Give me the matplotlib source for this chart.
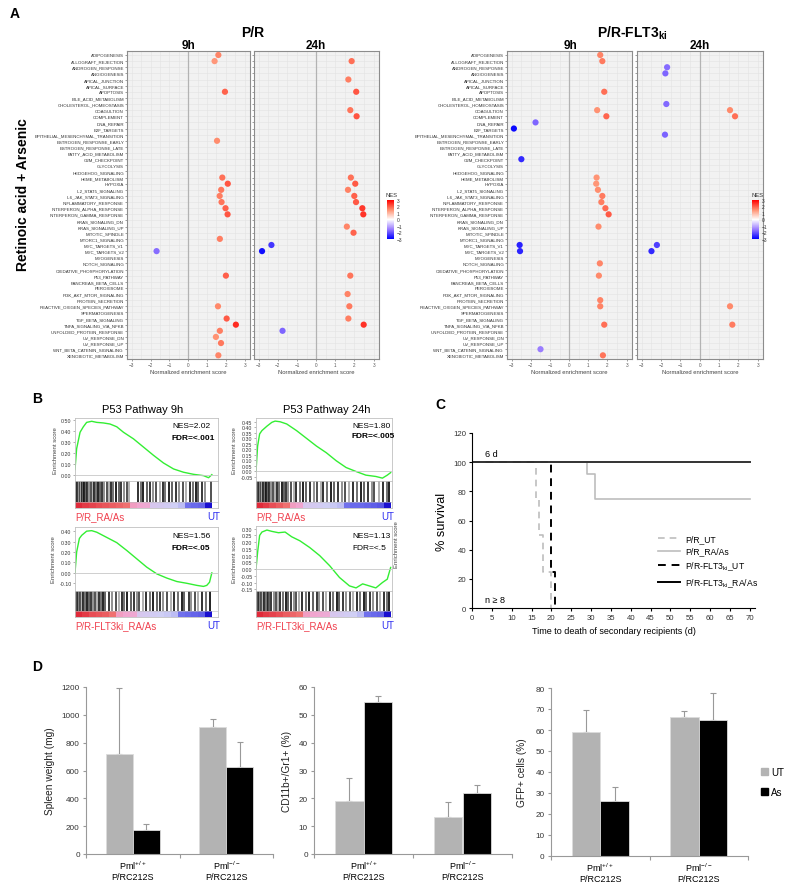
import numpy as np
import matplotlib.pyplot as plt
from matplotlib.colors import LinearSegmentedColormap, Normalize
from matplotlib.cm import ScalarMappable
from matplotlib.lines import Line2D
from matplotlib.patches import Patch

plt.rcParams['font.family'] = ['Liberation Sans', 'DejaVu Sans']
plt.rcParams['mathtext.fontset'] = 'custom'
plt.rcParams['mathtext.rm'] = 'Liberation Sans'
plt.rcParams['mathtext.bf'] = 'Liberation Sans:bold'
plt.rcParams['mathtext.it'] = 'Liberation Sans:italic'

# ---------------- data: panel A (hallmark GSEA, NES) ----------------
pathways = ['ADIPOGENESIS', 'ALLOGRAFT_REJECTION', 'ANDROGEN_RESPONSE', 'ANGIOGENESIS',
            'APICAL_JUNCTION', 'APICAL_SURFACE', 'APOPTOSIS', 'BILE_ACID_METABOLISM',
            'CHOLESTEROL_HOMEOSTASIS', 'COAGULTION', 'COMPLEMENT', 'DNA_REPAIR', 'E2F_TARGETS',
            'EPITHELIAL_MESENCHYMAL_TRANSITION', 'ESTROGEN_RESPONSE_EARLY', 'ESTROGEN_RESPONSE_LATE',
            'FATTY_ACID_METABOLISM', 'G2M_CHECKPOINT', 'GLYCOLYSIS', 'HEDGEHOG_SIGNALING',
            'HEME_METABOLISM', 'HYPOXIA', 'IL2_STAT5_SIGNALING', 'IL6_JAK_STAT3_SIGNALING',
            'INFLAMMATORY_RESPONSE', 'INTERFERON_ALPHA_RESPONSE', 'INTERFERON_GAMMA_RESPONSE',
            'KRAS_SIGNALING_DN', 'KRAS_SIGNALING_UP', 'MITOTIC_SPINDLE', 'MTORC1_SIGNALING',
            'MYC_TARGETS_V1', 'MYC_TARGETS_V2', 'MYOGENESIS', 'NOTCH_SIGNALING',
            'OXIDATIVE_PHOSPHORYLATION', 'P53_PATHWAY', 'PANCREAS_BETA_CELLS', 'PEROXISOME',
            'PI3K_AKT_MTOR_SIGNALING', 'PROTEIN_SECRETION', 'REACTIVE_OXIGEN_SPECIES_PATHWAY',
            'SPERMATOGENESIS', 'TGF_BETA_SIGNALING', 'TNFA_SIGNALING_VIA_NFKB',
            'UNFOLDED_PROTEIN_RESPONSE', 'UV_RESPONSE_DN', 'UV_RESPONSE_UP',
            'WNT_BETA_CATENIN_SIGNALING', 'XENOBIOTIC_METABOLISM']

pr_9h = {'ADIPOGENESIS': 1.60, 'ALLOGRAFT_REJECTION': 1.40, 'APOPTOSIS': 1.95,
         'ESTROGEN_RESPONSE_EARLY': 1.53, 'HEME_METABOLISM': 1.81, 'HYPOXIA': 2.10,
         'IL2_STAT5_SIGNALING': 1.75, 'IL6_JAK_STAT3_SIGNALING': 1.67, 'INFLAMMATORY_RESPONSE': 1.77,
         'INTERFERON_ALPHA_RESPONSE': 1.98, 'INTERFERON_GAMMA_RESPONSE': 2.09,
         'MTORC1_SIGNALING': 1.68, 'MYC_TARGETS_V2': -1.68, 'P53_PATHWAY': 2.00,
         'REACTIVE_OXIGEN_SPECIES_PATHWAY': 1.58, 'TGF_BETA_SIGNALING': 2.04,
         'TNFA_SIGNALING_VIA_NFKB': 2.53, 'UNFOLDED_PROTEIN_RESPONSE': 1.68,
         'UV_RESPONSE_DN': 1.47, 'UV_RESPONSE_UP': 1.74, 'XENOBIOTIC_METABOLISM': 1.60}
pr_24h = {'ALLOGRAFT_REJECTION': 1.85, 'APICAL_JUNCTION': 1.68, 'APOPTOSIS': 2.09,
          'COAGULTION': 1.78, 'COMPLEMENT': 2.11, 'HEME_METABOLISM': 1.81, 'HYPOXIA': 2.04,
          'IL2_STAT5_SIGNALING': 1.66, 'IL6_JAK_STAT3_SIGNALING': 1.99, 'INFLAMMATORY_RESPONSE': 2.08,
          'INTERFERON_ALPHA_RESPONSE': 2.41, 'INTERFERON_GAMMA_RESPONSE': 2.46,
          'KRAS_SIGNALING_UP': 1.60, 'MITOTIC_SPINDLE': 1.95, 'MYC_TARGETS_V1': -2.34,
          'MYC_TARGETS_V2': -2.83, 'P53_PATHWAY': 1.78, 'PI3K_AKT_MTOR_SIGNALING': 1.64,
          'REACTIVE_OXIGEN_SPECIES_PATHWAY': 1.73, 'TGF_BETA_SIGNALING': 1.68,
          'TNFA_SIGNALING_VIA_NFKB': 2.48, 'UNFOLDED_PROTEIN_RESPONSE': -1.76}
flt_9h = {'ADIPOGENESIS': 1.62, 'ALLOGRAFT_REJECTION': 1.73, 'APOPTOSIS': 1.83, 'COAGULTION': 1.46,
          'COMPLEMENT': 1.94, 'DNA_REPAIR': -1.76, 'E2F_TARGETS': -2.89, 'G2M_CHECKPOINT': -2.50,
          'HEME_METABOLISM': 1.43, 'HYPOXIA': 1.41, 'IL2_STAT5_SIGNALING': 1.50,
          'IL6_JAK_STAT3_SIGNALING': 1.73, 'INFLAMMATORY_RESPONSE': 1.68,
          'INTERFERON_ALPHA_RESPONSE': 1.89, 'INTERFERON_GAMMA_RESPONSE': 2.06,
          'KRAS_SIGNALING_UP': 1.53, 'MYC_TARGETS_V1': -2.59, 'MYC_TARGETS_V2': -2.57,
          'NOTCH_SIGNALING': 1.60, 'P53_PATHWAY': 1.55, 'PROTEIN_SECRETION': 1.62,
          'REACTIVE_OXIGEN_SPECIES_PATHWAY': 1.62, 'TNFA_SIGNALING_VIA_NFKB': 1.83,
          'WNT_BETA_CATENIN_SIGNALING': -1.50, 'XENOBIOTIC_METABOLISM': 1.76}
flt_24h = {'ANDROGEN_RESPONSE': -1.69, 'ANGIOGENESIS': -1.78, 'CHOLESTEROL_HOMEOSTASIS': -1.73,
           'COAGULTION': 1.57, 'COMPLEMENT': 1.83, 'EPITHELIAL_MESENCHYMAL_TRANSITION': -1.80,
           'MYC_TARGETS_V1': -2.22, 'MYC_TARGETS_V2': -2.50,
           'REACTIVE_OXIGEN_SPECIES_PATHWAY': 1.57, 'TNFA_SIGNALING_VIA_NFKB': 1.69}

# ---------------- data: panel B (running enrichment scores) ----------------
tl_x = [0, 0.012, 0.037, 0.061, 0.085, 0.122, 0.159, 0.207, 0.256, 0.305, 0.354, 0.427, 0.5,
        0.573, 0.646, 0.72, 0.793, 0.866, 0.939, 0.976, 1.0]
tl_es = [0.05, 0.24, 0.39, 0.44, 0.48, 0.49, 0.48, 0.475, 0.465, 0.44, 0.39, 0.33, 0.255,
         0.18, 0.11, 0.055, 0.025, 0.006, -0.006, -0.025, 0.003]
tr_x = [0, 0.012, 0.027, 0.044, 0.081, 0.118, 0.142, 0.179, 0.228, 0.301, 0.375, 0.449, 0.522,
        0.596, 0.669, 0.743, 0.816, 0.89, 0.939, 0.975, 1.0]
tr_es = [0.0, 0.23, 0.34, 0.37, 0.41, 0.445, 0.456, 0.45, 0.43, 0.37, 0.30, 0.23, 0.17, 0.097,
         0.036, 0.0, -0.033, -0.045, -0.06, -0.033, -0.01]
bl_x = [0, 0.012, 0.032, 0.049, 0.085, 0.122, 0.159, 0.232, 0.305, 0.378, 0.451, 0.524, 0.598,
        0.671, 0.744, 0.817, 0.89, 0.939, 0.963, 0.983, 1.0]
bl_es = [0.0, 0.2, 0.33, 0.36, 0.40, 0.405, 0.39, 0.34, 0.29, 0.215, 0.135, 0.055, -0.01,
         -0.05, -0.083, -0.10, -0.12, -0.13, -0.12, -0.09, 0.0]
br_x = [0, 0.012, 0.027, 0.044, 0.081, 0.118, 0.167, 0.216, 0.265, 0.326, 0.399, 0.473, 0.547,
        0.62, 0.694, 0.743, 0.792, 0.841, 0.89, 0.939, 0.975, 1.0]
br_es = [0.0, 0.125, 0.25, 0.275, 0.29, 0.28, 0.27, 0.275, 0.24, 0.21, 0.16, 0.1, 0.025,
         -0.0625, -0.125, -0.14, -0.11, -0.125, -0.14, -0.1, -0.075, 0.012]

tl_hits = [0.003, 0.01, 0.018, 0.026, 0.035, 0.042, 0.05, 0.058, 0.068, 0.078, 0.09, 0.1, 0.115,
           0.128, 0.14, 0.152, 0.17, 0.185, 0.2, 0.215, 0.232, 0.25, 0.262, 0.28, 0.3, 0.318,
           0.335, 0.36, 0.38, 0.395, 0.46, 0.48, 0.5, 0.525, 0.545, 0.57, 0.59, 0.62, 0.64, 0.66,
           0.69, 0.71, 0.735, 0.76, 0.79, 0.81, 0.84, 0.86, 0.885, 0.9, 0.93, 0.95, 0.995]
tr_hits = [0.004, 0.012, 0.02, 0.028, 0.036, 0.045, 0.055, 0.065, 0.075, 0.088, 0.1, 0.112, 0.125,
           0.14, 0.155, 0.17, 0.19, 0.205, 0.22, 0.24, 0.26, 0.28, 0.3, 0.33, 0.35, 0.37, 0.4,
           0.43, 0.45, 0.48, 0.5, 0.53, 0.56, 0.58, 0.61, 0.64, 0.66, 0.69, 0.72, 0.75, 0.78,
           0.8, 0.83, 0.86, 0.88, 0.91, 0.94, 0.97, 0.99]
bl_hits = [0.004, 0.012, 0.02, 0.03, 0.04, 0.05, 0.06, 0.072, 0.085, 0.1, 0.115, 0.13, 0.145,
           0.16, 0.175, 0.19, 0.205, 0.22, 0.245, 0.27, 0.3, 0.32, 0.34, 0.36, 0.38, 0.41, 0.43,
           0.45, 0.47, 0.5, 0.52, 0.545, 0.57, 0.6, 0.62, 0.645, 0.67, 0.7, 0.72, 0.75, 0.78,
           0.8, 0.83, 0.85, 0.88, 0.9, 0.93, 0.96, 0.99]
br_hits = [0.004, 0.012, 0.02, 0.03, 0.04, 0.05, 0.06, 0.075, 0.09, 0.1, 0.115, 0.13, 0.145, 0.16,
           0.18, 0.2, 0.22, 0.24, 0.26, 0.28, 0.3, 0.32, 0.34, 0.37, 0.39, 0.42, 0.45, 0.47, 0.5,
           0.52, 0.55, 0.57, 0.6, 0.62, 0.645, 0.67, 0.7, 0.72, 0.75, 0.77, 0.8, 0.82, 0.85, 0.87,
           0.9, 0.92, 0.95, 0.97, 0.99]

# ranked-list metric, 20 equal segments left to right
tl_rank = [3.0, 2.8, 2.7, 2.6, 2.5, 2.4, 2.3, 2.2, 1.5, 1.4, 1.3, 0.3, 0.2, 0.1, 0.0, -0.3, -1.5, -1.6, -1.7, -3.0]
tr_rank = [3.0, 2.8, 2.6, 2.4, 2.2, 1.5, 1.4, 0.3, 0.2, 0.1, 0.0, -0.1, -0.3, -1.5, -1.6, -1.6, -1.7, -1.8, -1.9, -3.0]
bl_rank = [3.0, 2.8, 2.6, 2.5, 2.4, 2.2, 1.5, 1.4, 1.3, 0.3, 0.2, 0.1, 0.0, -0.1, -0.3, -1.5, -1.6, -1.7, -1.8, -3.0]
br_rank = [3.0, 2.8, 2.7, 2.6, 2.4, 2.3, 2.2, 1.5, 1.4, 1.3, 1.2, 0.3, 0.2, 0.1, 0.0, -0.3, -1.5, -1.6, -1.7, -3.0]

# ---------------- data: panel C (survival) ----------------
pr_ut_days, pr_ut_surv = [0, 16, 17, 18, 20], [100, 75, 50, 25, 0]
pr_ra_days, pr_ra_surv = [0, 29, 31, 70], [100, 91.7, 75, 75]
flt_ut_days, flt_ut_surv = [0, 20, 21], [100, 25, 0]
flt_ra_days, flt_ra_surv = [0, 70], [100, 100]

# ---------------- data: panel D (bars, mean and SD) ----------------
groups = [r'Pml$^{+/+}$', r'Pml$^{-/-}$']
spleen_ut, spleen_ut_sd = [718, 912], [475, 58]
spleen_as, spleen_as_sd = [172, 622], [41, 183]
cd11b_ut, cd11b_ut_sd = [19.2, 13.2], [8.0, 5.4]
cd11b_as, cd11b_as_sd = [54.6, 21.9], [2.0, 2.9]
gfp_ut, gfp_ut_sd = [59.0, 66.3], [10.3, 2.6]
gfp_as, gfp_as_sd = [26.3, 65.0], [6.4, 12.6]

W, H = 800, 895
fig = plt.figure(figsize=(W / 100, H / 100), dpi=100)


def box(x0, y0, x1, y1):
    # pixel box (top-left origin) -> figure rect
    return [x0 / W, 1 - y1 / H, (x1 - x0) / W, (y1 - y0) / H]


def txt(x, y, s, **kw):
    kw.setdefault('ha', 'center')
    kw.setdefault('va', 'center')
    fig.text(x / W, 1 - y / H, s, **kw)


# ================= A =================
nes_cmap = LinearSegmentedColormap.from_list('nes', ['#0000ff', '#9a7cff', '#ffffff', '#ff9070', '#ff0000'])
rows = np.arange(len(pathways))


def nes_panel(x0, x1, values, labels):
    ax = fig.add_axes(box(x0, 52, x1, 360))
    ax.set_facecolor('#f2f2f2')
    ax.set_xlim(-3.25, 3.28)
    ax.set_ylim(49.6, -0.65)
    ax.set_xticks(range(-3, 4))
    ax.set_xticks(np.arange(-2.5, 3, 1), minor=True)
    ax.set_yticks(rows)
    ax.grid(True, which='both', color='#e2e2e2', lw=0.4)
    ax.set_axisbelow(True)
    ax.axvline(0, color='#b3b3b3', lw=0.9, zorder=1)
    if labels:
        ax.set_yticklabels(pathways, fontsize=3.2, color='#333333')
    else:
        ax.set_yticklabels([])
    ax.tick_params(axis='y', length=1.2, width=0.4, pad=1, color='#555555')
    ax.tick_params(axis='x', labelsize=3.3, length=1.2, width=0.4, pad=1,
                   labelcolor='#555555', color='#555555')
    ax.tick_params(which='minor', length=0)
    ax.set_xlabel('Normalized enrichment score', fontsize=4.2, color='#444444', labelpad=1.5)
    for s in ax.spines.values():
        s.set_color('#8c8c8c')
        s.set_linewidth(0.8)
    names = list(values)
    x = [values[n] for n in names]
    y = [pathways.index(n) for n in names]
    ax.scatter(x, y, c=x, cmap=nes_cmap, vmin=-3, vmax=3, s=20, edgecolors='none', zorder=3)


def nes_bar(x0, x1):
    cax = fig.add_axes(box(x0, 201, x1, 240))
    cb = fig.colorbar(ScalarMappable(Normalize(-3, 3), nes_cmap), cax=cax, ticks=range(-3, 4))
    cb.outline.set_visible(False)
    cax.tick_params(labelsize=3.5, length=0, pad=2, labelcolor='#333333')
    txt(x0 - 1, 198, 'NES', fontsize=4.2, color='#333333', ha='left', va='bottom')


nes_panel(127, 250, pr_9h, True)
nes_panel(254, 379, pr_24h, False)
nes_panel(507, 632, flt_9h, True)
nes_panel(637, 763, flt_24h, False)
nes_bar(387, 394)
nes_bar(752, 759)

txt(253, 33, 'P/R', fontsize=10, fontweight='bold')
txt(632, 33, r'P/R-FLT3$_{\mathbf{ki}}$', fontsize=10, fontweight='bold')
for x, s in [(188, '9h'), (316, '24h'), (570, '9h'), (700, '24h')]:
    txt(x, 46, s, fontsize=8.5, fontweight='bold')
txt(23, 195, 'Retinoic acid + Arsenic', fontsize=10, fontweight='bold', rotation=90)

# ================= B =================
rank_cmap = LinearSegmentedColormap.from_list(
    'rank', [(0, '#1a10d0'), (0.233, '#6a6aec'), (0.5, '#d0d0f6'), (0.733, '#f2a6d0'),
             (0.867, '#f07070'), (1, '#e02a3a')])
bar_grays = ['#111111', '#555555', '#2a2a2a', '#888888', '#444444', '#aaaaaa', '#222222', '#666666']


def gsea(x0, x1, y_top, y_mid, y_bot, xs, es, ylim, yticks, fmt, hits, rank, xmax, left_lab):
    ax = fig.add_axes(box(x0, y_top, x1, y_mid))
    ax.plot(xs, es, color='#33ee33', lw=1)
    ax.axhline(0, color='#c8c8c8', lw=0.6)
    ax.set_xlim(0, xmax)
    ax.set_ylim(*ylim)
    ax.set_xticks([])
    ax.set_yticks(yticks)
    ax.set_yticklabels([fmt % v for v in yticks])
    ax.tick_params(axis='y', labelsize=3.8, length=1.5, width=0.4, pad=1, color='#777777',
                   labelcolor='#333333')
    ax.set_ylabel('Enrichment score', fontsize=4.3, color='#444444', labelpad=2)
    for s in ax.spines.values():
        s.set_color('#c0c0c0')
        s.set_linewidth(0.6)
    hx = fig.add_axes(box(x0, y_mid, x1, y_bot))
    hx.set_xlim(0, xmax)
    hx.set_ylim(0, 1)
    hx.set_xticks([])
    hx.set_yticks([])
    for i, h in enumerate(hits):
        hx.vlines(h, 0.23, 1, color=bar_grays[i % len(bar_grays)], lw=1.3)
    hx.axhline(0.23, color='#bbbbbb', lw=0.4)
    hx.imshow([rank], cmap=rank_cmap, vmin=-3, vmax=3, aspect='auto', extent=(0, 1, 0, 0.22))
    for s in hx.spines.values():
        s.set_color('#c0c0c0')
        s.set_linewidth(0.6)
    lab_y = y_bot + 8
    txt(x0, lab_y, left_lab, fontsize=7, color='#f0404e', ha='left')
    txt(x1 + 2, lab_y, 'UT', fontsize=7, color='#3030f0', ha='right')


gsea(75, 218, 419, 482, 509, tl_x, tl_es, (-0.055, 0.52), [0, 0.1, 0.2, 0.3, 0.4, 0.5], '%.2f',
     tl_hits, tl_rank, 1.045, 'P/R_RA/As')
gsea(256, 392, 419, 482, 509, tr_x, tr_es, (-0.086, 0.484), np.round(np.arange(-0.05, 0.46, 0.05), 2),
     '%.2f', tr_hits, tr_rank, 1.01, 'P/R_RA/As')
gsea(75, 218, 528, 592, 618, bl_x, bl_es, (-0.174, 0.44), [-0.1, 0, 0.1, 0.2, 0.3, 0.4], '%.2f',
     bl_hits, bl_rank, 1.045, 'P/R-FLT3ki_RA/As')
gsea(256, 392, 527, 592, 618, br_x, br_es, (-0.163, 0.32), np.round(np.arange(-0.15, 0.31, 0.05), 2),
     '%.2f', br_hits, br_rank, 1.01, 'P/R-FLT3ki_RA/As')
txt(396, 545, 'Enrichment score', fontsize=4.3, color='#444444', rotation=90)

txt(143, 410, 'P53 Pathway 9h', fontsize=8)
txt(327, 410, 'P53 Pathway 24h', fontsize=8)
for x, y, nes, fdr, bold in [(172, 427, 'NES=2.02', 'FDR=<.001', True),
                             (352, 426, 'NES=1.80', 'FDR=<.005', True),
                             (172, 537, 'NES=1.56', 'FDR=<.05', True),
                             (352, 537, 'NES=1.13', 'FDR=<.5', False)]:
    txt(x, y, nes, fontsize=6, ha='left')
    txt(x, y + 11, fdr, fontsize=6, ha='left', fontweight='bold' if bold else 'normal')

# ================= C =================
ax = fig.add_axes(box(472, 434, 755, 609))
ax.step(pr_ra_days, pr_ra_surv, where='post', color='#bdbdbd', lw=1.2)
ax.step(pr_ut_days, pr_ut_surv, where='post', color='#bdbdbd', lw=1.2, ls=(0, (4, 3)))
ax.step(flt_ut_days, flt_ut_surv, where='post', color='black', lw=1.4, ls=(0, (4, 3)))
ax.step(flt_ra_days, flt_ra_surv, where='post', color='#333333', lw=1.4)
ax.set_xlim(0, 71.3)
ax.set_ylim(0, 120)
ax.set_xticks(range(0, 71, 5))
ax.set_yticks(range(0, 121, 20))
ax.spines[['top', 'right']].set_visible(False)
for s in ('left', 'bottom'):
    ax.spines[s].set_linewidth(0.8)
ax.tick_params(labelsize=5.6, length=2.5, width=0.8, pad=1.5, labelcolor='#333333')
ax.set_ylabel('% survival', fontsize=9.2, labelpad=4)
ax.set_xlabel('Time to death of secondary recipients (d)', fontsize=6.5, labelpad=4)
ax.text(3.3, 106, '6 d', fontsize=6.5, va='center')
ax.text(3.3, 6, 'n ≥ 8', fontsize=6.5, va='center')
km_handles = [Line2D([], [], color='#bdbdbd', lw=1.2, ls=(0, (4, 3))),
              Line2D([], [], color='#bdbdbd', lw=1.2),
              Line2D([], [], color='black', lw=1.4, ls=(0, (4, 3))),
              Line2D([], [], color='black', lw=1.4)]
km_labels = ['P/R_UT', 'P/R_RA/As', r'P/R-FLT3$_{\rm ki}$_UT', r'P/R-FLT3$_{\rm ki}$_RA/As']
fig.legend(km_handles, km_labels, loc='upper left', bbox_to_anchor=(650 / W, 1 - 527 / H),
           frameon=False, fontsize=6.2, handlelength=2.6, handletextpad=0.6, labelspacing=0.45)

# ================= D =================


def bar_panel(rect, ut, ut_sd, as_, as_sd, ymax, ystep, ylabel, lab_x):
    ax = fig.add_axes(box(*rect))
    pos = np.arange(2)
    ax.bar(pos - 0.145, ut, 0.29, color='#b3b3b3', edgecolor='#dcdcdc', lw=0.6, zorder=2)
    ax.bar(pos + 0.145, as_, 0.29, color='black', edgecolor='#dcdcdc', lw=0.6, zorder=2)
    ax.errorbar(pos - 0.145, ut, yerr=[[0, 0], ut_sd], fmt='none', ecolor='#999999',
                elinewidth=0.8, capsize=2, capthick=0.8, zorder=1)
    ax.errorbar(pos + 0.145, as_, yerr=[[0, 0], as_sd], fmt='none', ecolor='#999999',
                elinewidth=0.8, capsize=2, capthick=0.8, zorder=1)
    ax.set_xlim(-0.5, 1.5)
    ax.set_ylim(0, ymax)
    ax.set_yticks(np.arange(0, ymax + 1, ystep))
    ax.set_xticks([-0.5, 0.5, 1.5])
    ax.set_xticklabels([])
    ax.spines[['top', 'right']].set_visible(False)
    for s in ('left', 'bottom'):
        ax.spines[s].set_color('#999999')
        ax.spines[s].set_linewidth(0.8)
    ax.tick_params(axis='y', labelsize=5.9, length=2.5, width=0.8, color='#999999', pad=2,
                   labelcolor='#333333')
    ax.tick_params(axis='x', length=3, width=0.8, color='#999999')
    ax.set_ylabel(ylabel, fontsize=7.3, color='#222222')
    ax.yaxis.set_label_coords(lab_x, 0.5)
    for p, g in zip(pos, groups):
        ax.annotate(g, (p, 0), xycoords=('data', 'axes fraction'), xytext=(0, -7.7),
                    textcoords='offset points', ha='center', va='center', fontsize=6.5)
        ax.annotate('P/RC212S', (p, 0), xycoords=('data', 'axes fraction'), xytext=(0, -16.3),
                    textcoords='offset points', ha='center', va='center', fontsize=6.5)


bar_panel((86, 688, 273, 855), spleen_ut, spleen_ut_sd, spleen_as, spleen_as_sd, 1200, 200,
          'Spleen weight (mg)', -0.166)
bar_panel((314, 688, 512, 855), cd11b_ut, cd11b_ut_sd, cd11b_as, cd11b_as_sd, 60, 10,
          'CD11b+/Gr1+ (%)', -0.113)
bar_panel((551, 689, 748, 857), gfp_ut, gfp_ut_sd, gfp_as, gfp_as_sd, 80, 10,
          'GFP+ cells (%)', -0.122)
fig.legend([Patch(color='#b3b3b3'), Patch(color='black')], ['UT', 'As'], loc='center left',
           bbox_to_anchor=(752 / W, 1 - 783 / H), frameon=False, fontsize=7, handlelength=0.7,
           handleheight=0.7, handletextpad=0.4, labelspacing=1.0)

# panel letters
for x, y, s in [(15, 14, 'A'), (37, 399, 'B'), (440, 405, 'C'), (37, 667, 'D')]:
    txt(x, y, s, fontsize=10, fontweight='bold')

fig.savefig('out.png', dpi=100)
